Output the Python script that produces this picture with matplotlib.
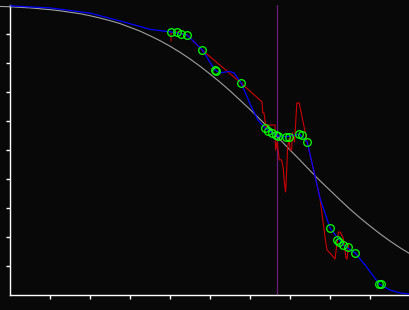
import matplotlib
matplotlib.use("Agg")
import matplotlib.pyplot as plt

# reference curve (gray)
ref_x = [-0.25, 0, 0.25, 0.5, 0.75, 1, 1.25, 1.5, 1.75, 2, 2.25, 2.5, 2.75, 3, 3.25, 3.5, 3.75,
         4, 4.25, 4.5, 4.75, 5, 5.25, 5.5, 5.75, 6, 6.25, 6.5, 6.75, 7, 7.25, 7.5, 7.75, 8,
         8.25, 8.5, 8.75, 9, 9.25, 9.5, 9.75, 10]
ref_y = [0.995, 0.994, 0.992, 0.990, 0.987, 0.984, 0.980, 0.975, 0.970, 0.963, 0.955, 0.946,
         0.936, 0.923, 0.910, 0.894, 0.877, 0.858, 0.837, 0.814, 0.789, 0.762, 0.734, 0.704,
         0.672, 0.640, 0.606, 0.571, 0.536, 0.500, 0.465, 0.429, 0.394, 0.361, 0.328, 0.296,
         0.266, 0.238, 0.211, 0.186, 0.163, 0.142]

# fitted curve (blue)
fit_x = [0, 1.0, 2.0, 2.75, 3.25, 3.5, 4.03, 4.27, 4.43, 4.81, 5.12, 5.25, 5.48, 5.6, 5.78, 6.0,
         6.2, 6.38, 6.69, 6.9, 7.23, 7.43, 7.75, 8.0, 8.33, 8.63, 8.88, 9.23, 9.5, 9.75, 10]
fit_y = [0.997, 0.990, 0.972, 0.945, 0.926, 0.916, 0.907, 0.901, 0.896, 0.845, 0.776, 0.766, 0.771,
         0.766, 0.731, 0.659, 0.603, 0.575, 0.548, 0.545, 0.555, 0.528, 0.334, 0.231, 0.172, 0.145,
         0.103, 0.038, 0.017, 0.007, 0.003]

# raw estimate (red)
raw_x = [4.025, 4.025, 4.175, 4.275, 4.425, 4.80, 5.775, 6.30, 6.32, 6.35, 6.375, 6.40, 6.42, 6.625,
         6.64, 6.68, 6.73, 6.79, 6.83, 6.86, 6.89, 6.92, 6.94, 6.98, 7.00, 7.04, 7.06, 7.08, 7.11,
         7.125, 7.17, 7.23, 7.42, 7.75, 7.875, 7.925, 8.00, 8.125, 8.21, 8.25, 8.33, 8.40, 8.43, 8.46]
raw_y = [0.876, 0.903, 0.907, 0.902, 0.897, 0.845, 0.731, 0.666, 0.628, 0.628, 0.603, 0.579, 0.586,
         0.586, 0.500, 0.528, 0.466, 0.466, 0.438, 0.386, 0.355, 0.438, 0.510, 0.541, 0.500, 0.500,
         0.559, 0.552, 0.528, 0.552, 0.662, 0.662, 0.534, 0.334, 0.200, 0.155, 0.145, 0.124, 0.217,
         0.217, 0.197, 0.128, 0.124, 0.172]

# observations (green circles)
obs_x = [4.03, 4.18, 4.27, 4.43, 4.81, 5.12, 5.16, 5.78, 6.38, 6.46, 6.56, 6.64, 6.69, 6.90, 6.98,
         7.23, 7.29, 7.43, 8.01, 8.18, 8.23, 8.33, 8.46, 8.63, 9.23, 9.28]
obs_y = [0.906, 0.906, 0.901, 0.896, 0.844, 0.776, 0.773, 0.730, 0.575, 0.567, 0.560, 0.552, 0.547,
         0.544, 0.546, 0.554, 0.551, 0.528, 0.230, 0.189, 0.182, 0.172, 0.166, 0.145, 0.039, 0.039]

marker_x = 6.675

bg = "#080808"
fig = plt.figure(figsize=(4.1, 3.1), dpi=100, facecolor=bg)
ax = fig.add_axes([10 / 410, 15 / 310, 400 / 410, 290 / 310], facecolor=bg)

ax.axvline(marker_x, color="#6a1b7a", lw=0.9, zorder=1)
ax.plot(ref_x, ref_y, color="#a0a0a0", lw=0.8, clip_on=False, zorder=2)
ax.plot(raw_x, raw_y, color="#cc0000", lw=0.8, zorder=3)
ax.plot(fit_x, fit_y, color="#0000ff", lw=0.9, zorder=4)
ax.plot(obs_x, obs_y, ls="none", marker="o", ms=5.5, mfc="none", mec="#00ff00", mew=0.9, zorder=5)

ax.set_xlim(0, 10)
ax.set_ylim(0, 1)
ax.set_xticks(range(1, 10))
ax.set_yticks([i / 10 for i in range(1, 10)])
ax.set_xticklabels([])
ax.set_yticklabels([])
for s in ["top", "right"]:
    ax.spines[s].set_visible(False)
for s in ["left", "bottom"]:
    ax.spines[s].set_color("white")
    ax.spines[s].set_linewidth(1.0)
ax.tick_params(colors="white", direction="out", length=3, width=1.0)

fig.savefig("out.png", dpi=100, facecolor=bg)
